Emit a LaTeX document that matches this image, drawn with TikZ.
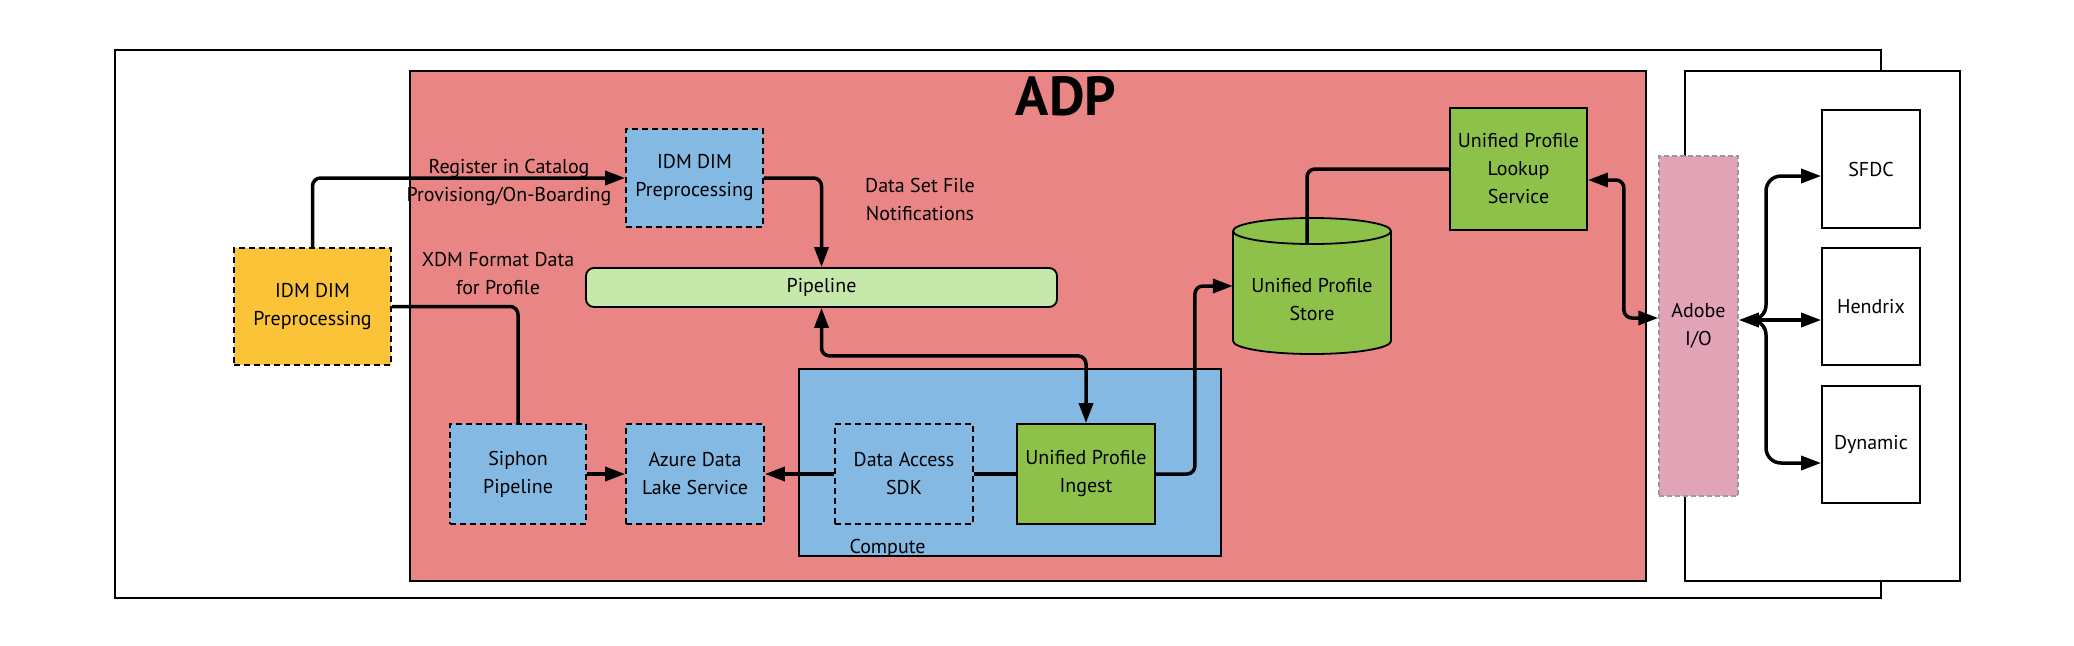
\documentclass[tikz,border=0pt]{standalone}
\usepackage{fontspec}
\setmainfont{PT Sans}
\usetikzlibrary{arrows.meta,calc}
\definecolor{adpred}{RGB}{234,133,133}
\definecolor{boxblue}{RGB}{132,185,227}
\definecolor{idmyellow}{RGB}{251,195,55}
\definecolor{pipegreen}{RGB}{198,232,171}
\definecolor{upgreen}{RGB}{141,193,74}
\definecolor{adobepink}{RGB}{227,163,182}
\begin{document}
\begin{tikzpicture}[x=1pt,y=-1pt,
  every node/.style={font=\fontsize{20}{28}\selectfont, inner sep=0pt, align=center},
  nodebox/.style={rectangle, draw=black, line width=1.8pt},
  dashbox/.style={nodebox, dash pattern=on 6pt off 4pt},
  >={Triangle[length=20pt,width=14pt]},
  conn/.style={line width=3.5pt, rounded corners=8pt, ->},
  wire/.style={line width=3.5pt, rounded corners=8pt},
  conntwo/.style={line width=3.5pt, rounded corners=8pt, <->}]
\useasboundingbox (0,0) rectangle (2074,645);
\fill[white] (0,0) rectangle (2074,645);
% regions
\node[draw, line width=2pt, minimum width=1766pt, minimum height=548pt] (outer) at (998,324) {};
\node[draw, line width=2pt, fill=adpred, minimum width=1236pt, minimum height=510pt] (adp) at (1028,326) {};
\node[draw, line width=2pt, fill=white, minimum width=275pt, minimum height=510pt] (rightbox) at (1822.5,326) {};
\node[font=\bfseries\fontsize{55}{55}\selectfont] (adptitle) at (1066,96) {ADP};
\node[draw, line width=2pt, fill=boxblue, minimum width=422pt, minimum height=187pt] (compute) at (1010,462.5) {};
\node (computelabel) at (887.5,548) {Compute};
% boxes
\node[dashbox, fill=idmyellow, minimum width=157pt, minimum height=117pt] (idm) at (312.5,306.5) {IDM DIM\\Preprocessing};
\node[dashbox, fill=boxblue, minimum width=137pt, minimum height=98pt] (idmtop) at (694.5,178) {IDM DIM\\Preprocessing};
\node[nodebox, fill=pipegreen, rounded corners=8pt, minimum width=471pt, minimum height=39pt] (pipeline) at (821.5,287.5) {Pipeline};
\node[dashbox, fill=boxblue, minimum width=136pt, minimum height=100pt] (siphon) at (518,474) {Siphon\\Pipeline};
\node[dashbox, fill=boxblue, minimum width=138pt, minimum height=100pt] (azure) at (695,474) {Azure Data\\Lake Service};
\node[dashbox, fill=boxblue, minimum width=138pt, minimum height=100pt] (sdk) at (904,474) {Data Access\\SDK};
\node[nodebox, fill=upgreen, minimum width=138pt, minimum height=100pt] (ingest) at (1086,474) {Unified Profile\\Ingest};
% cylinder store
\fill[upgreen] (1233,231) -- (1233,341) arc[start angle=180,end angle=360,x radius=79pt,y radius=13pt] -- (1391,231) arc[start angle=0,end angle=180,x radius=79pt,y radius=13pt] -- cycle;
\draw[line width=1.8pt] (1233,231) -- (1233,341) arc[start angle=180,end angle=360,x radius=79pt,y radius=13pt] -- (1391,231) arc[start angle=0,end angle=180,x radius=79pt,y radius=13pt] -- cycle;
\draw[line width=1.8pt] (1233,231) arc[start angle=180,end angle=360,x radius=79pt,y radius=13pt];
\node[minimum width=158pt, minimum height=136pt] (store) at (1312,286) {};
\node (storetext) at (1312,300) {Unified Profile\\Store};
\coordinate (storetop) at (1307,244);
\node[nodebox, fill=upgreen, minimum width=137pt, minimum height=122pt] (lookup) at (1518.5,169) {Unified Profile\\Lookup\\Service};
\node[draw=black!40, dash pattern=on 5pt off 3pt, line width=1.5pt, fill=adobepink, minimum width=79pt, minimum height=340pt] (adobe) at (1698.5,326) {Adobe\\I/O};
\node[nodebox, fill=white, minimum width=98pt, minimum height=118pt] (sfdc) at (1871,169) {SFDC};
\node[nodebox, fill=white, minimum width=98pt, minimum height=117pt] (hendrix) at (1871,306.5) {Hendrix};
\node[nodebox, fill=white, minimum width=98pt, minimum height=117pt] (dynamic) at (1871,444.5) {Dynamic};
% labels
\node (lblreg) at (509,182) {Register in Catalog\\Provisiong/On-Boarding};
\node (lblxdm) at (498,274) {XDM Format Data\\for Profile};
\node (lbldsf) at (920,199) {Data Set File\\Notifications};
% connectors
\draw[conn] (idm.north) |- (idmtop.west);
\draw[conn] (idmtop.east) -| (pipeline.north);
\draw[conntwo] (pipeline.south) -- ++(0,48) -| (ingest.north);
\draw[wire] (idm.east) -| (siphon.north);
\draw[conn] (siphon) -- (azure);
\draw[conn] (sdk) -- (azure);
\draw[wire] (sdk) -- (ingest);
\draw[conn] (ingest.east) -- ++(39,0) |- (store.west);
\draw[wire] (storetop) |- (lookup.west);
\draw[conntwo] ($(lookup.east)+(0,11)$) -- ++(36,0) |- ($(adobe.west)+(0,-8)$);
% brace to outputs
\coordinate (cusp) at (1766,320);
\coordinate (ys) at ($(sfdc.west)+(0,7)$);
\coordinate (yd) at ($(dynamic.west)+(0,18.5)$);
\draw[line width=3.5pt, ->] (cusp) -- (adobe.east |- cusp);
\draw[line width=3.5pt, ->] (cusp) -- (hendrix.west |- cusp);
\draw[line width=3.5pt, rounded corners=15pt, ->] ($(cusp)+(-16,0)$) -- (cusp) -- (cusp |- ys) -- (sfdc.west |- ys);
\draw[line width=3.5pt, rounded corners=15pt, ->] ($(cusp)+(-16,0)$) -- (cusp) -- (cusp |- yd) -- (dynamic.west |- yd);
\end{tikzpicture}
\end{document}
